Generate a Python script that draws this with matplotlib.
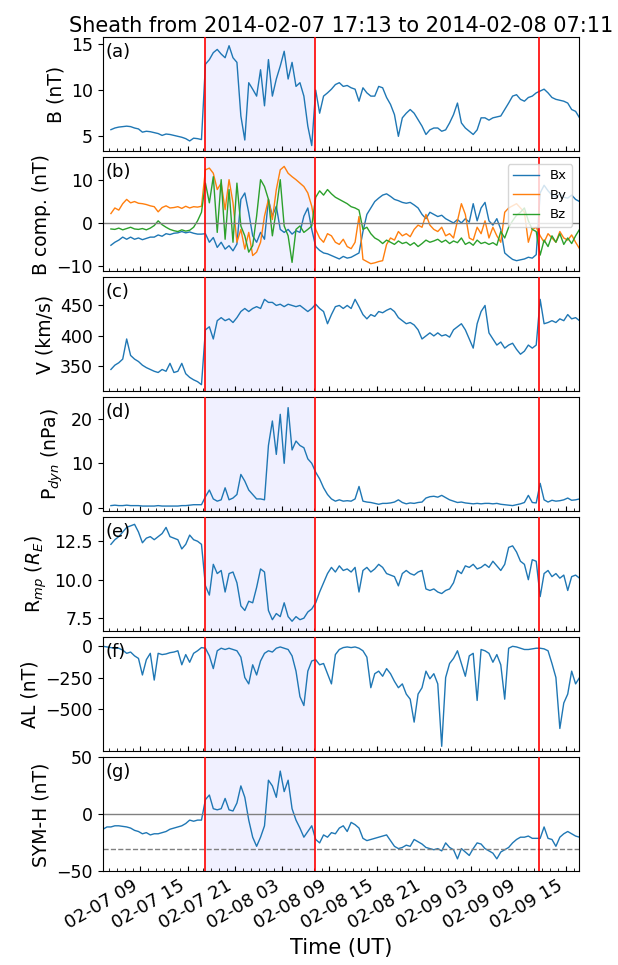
import numpy as np
import pandas as pd
import matplotlib
matplotlib.use('Agg')
import matplotlib.pyplot as plt
import matplotlib.dates as mdates
from matplotlib.ticker import FormatStrFormatter

nan = np.nan

# 30-minute samples, first one at 2014-02-07 04:15 UT (8 samples = 4 hours per row)
time_start = '2014-02-07 04:15'

b_total = [
    nan, nan, 5.72, 5.9, 6.0, 6.05, 6.1, 6.05,
    5.9, 5.8, 5.45, 5.55, 5.5, 5.4, 5.3, 5.1,
    5.25, 5.2, 5.1, 5.0, 4.9, 4.75, 4.5, 4.8,
    4.75, 4.65, 12.8, 13.3, 14.05, 14.4, 13.9, 13.5,
    14.8, 13.5, 13.0, 7.2, 4.6, 10.8, 10.1, 9.35,
    12.2, 8.3, 13.3, 9.35, 11.2, 12.6, 14.2, 11.2,
    13.0, 10.4, 10.8, 9.35, 6.1, 4.0, 10.0, 7.5,
    9.35, 9.7, 10.1, 10.6, 10.8, 10.4, 10.5, 10.25,
    10.1, 8.8, 10.25, 9.7, 9.35, 9.35, 10.4, 10.25,
    9.2, 8.45, 7.35, 5.0, 7.0, 7.5, 7.9, 7.5,
    6.8, 6.1, 5.2, 5.7, 5.9, 5.9, 5.55, 5.7,
    6.45, 7.35, 8.6, 6.45, 5.9, 5.55, 5.2, 5.7,
    7.0, 7.0, 6.75, 7.0, 7.1, 7.2, 7.9, 8.6,
    9.35, 9.5, 9.0, 8.8, 9.2, 9.35, 9.7, 9.9,
    10.1, 9.7, 9.2, 9.0, 8.9, 8.8, 8.6, 7.9,
    7.7, 7.0,
]

bx = [
    nan, nan, -5.2, -4.5, -4.0, -3.3, -3.8, -3.3,
    -3.8, -3.5, -3.9, -3.6, -3.3, -3.3, -2.8, -3.1,
    -2.5, -2.7, -2.4, -2.3, -2.0, -2.3, -2.1, -2.4,
    -2.6, -2.6, -2.5, -4.5, -3.4, -5.7, -4.5, -6.1,
    -5.3, -6.5, -4.9, 5.5, 7.0, 2.4, -3.0, -4.5,
    -2.2, -3.8, 5.5, 1.6, 3.9, -1.5, -2.2, -1.5,
    -2.6, -1.8, -2.2, 1.6, 3.5, -1.5, -5.5, -6.4,
    -7.0, -7.2, -7.6, -8.0, -8.4, -7.8, -8.2, -8.0,
    -7.5, -7.0, -2.0, 2.0, 3.5, 5.0, 5.8, 6.5,
    6.8, 6.2, 5.5, 5.2, 4.8, 4.6, 4.8, 4.2,
    3.5, 2.0, 1.0, 2.5, 2.0, 1.5, 1.8, 1.0,
    0.5, 0.0, 0.8, 0.0, 1.0, 0.2, 4.5, 0.5,
    3.5, 4.8, 0.5, -0.5, 1.0, -1.5, -7.0, -7.8,
    -8.5, -8.8, -8.6, -8.4, -8.0, -8.2, -7.4, 7.0,
    8.8, 7.5, 6.5, 6.0, 6.8, 6.0, 5.8, 6.5,
    5.5, 5.0,
]

by = [
    nan, nan, 2.2, 3.5, 3.0, 4.5, 5.5, 4.7,
    5.0, 4.6, 4.5, 4.3, 4.0, 3.8, 2.6, 3.6,
    4.0, 3.5, 3.6, 3.8, 3.4, 3.9, 3.5, 3.8,
    3.7, 3.9, 12.4, 12.8, 11.6, 7.8, 9.3, 3.1,
    10.1, 4.7, -4.5, -1.5, -6.1, -2.2, -7.6, -6.8,
    -4.5, 1.6, 5.5, 0.8, 7.8, 12.4, 13.2, 11.6,
    10.8, 10.1, 9.3, 8.5, 7.0, 3.9, -1.5, -3.5,
    -4.5, -2.5, -3.0, -4.5, -5.0, -3.8, -5.5, -6.0,
    -4.5, 1.5, -8.5, -9.0, -9.5, -9.3, -9.0, -8.8,
    -5.0, -3.5, -4.0, -2.0, -3.0, -2.5, -3.2, -1.5,
    -0.5, -1.0, 2.0, -0.5, -1.5, -2.0, -1.0, -3.0,
    -2.5, -3.5, 0.5, 4.5, 2.0, -3.5, -4.0, -1.0,
    -2.5, 0.5, -3.5, -1.0, -3.0, -4.5, 2.5, 3.5,
    4.0, 4.5, 3.5, 2.5, -4.5, -1.5, -1.0, -3.0,
    -4.5, -2.5, -3.5, -4.5, -2.0, -3.5, -4.0, -2.8,
    -4.5, -6.0,
]

bz = [
    nan, nan, -1.4, -1.5, -1.2, -1.6, -1.3, -1.0,
    -1.4, -1.5, -1.3, -1.6, -1.2, -0.6, 0.5, -0.4,
    -1.0, -1.5, -1.8, -2.0, -1.6, -1.9, -1.7, -1.0,
    0.5, 2.5, 9.3, 4.7, 10.8, -2.2, 10.1, -3.8,
    7.8, -4.5, 9.3, -0.7, -3.0, -6.8, -5.3, 1.6,
    10.1, 8.5, 5.5, -3.0, 3.1, 10.1, -0.7, -3.0,
    -9.2, -1.5, -0.7, -2.2, -1.5, -0.7, 6.0, 7.5,
    6.5, 7.8, 6.8, 6.0, 5.5, 5.0, 4.5, 3.8,
    3.5, 3.0, -1.5, -1.0, -2.5, -3.5, -4.0, -4.8,
    -4.0, -4.5, -5.0, -4.2, -4.8, -4.5, -5.2, -4.6,
    -5.5, -4.8, -4.0, -4.5, -4.2, -3.8, -4.5, -4.0,
    -4.8, -4.2, -4.6, -3.5, -5.0, -4.5, -5.2, -4.0,
    -4.8, -4.5, -5.0, -4.6, -5.2, -2.0, -3.5, -1.0,
    0.5, 1.8, 2.5, 3.5, 0.5, -1.5, -2.0, -7.5,
    -4.0, -5.5, -3.0, -4.5, -2.5, -5.0, -3.5, -4.8,
    -3.0, -1.5,
]

speed = [
    nan, nan, 345, 352, 356, 362, 395, 368,
    362, 358, 352, 348, 345, 342, 340, 345,
    342, 355, 340, 342, 355, 338, 332, 328,
    325, 320, 410, 415, 395, 425, 430, 425,
    428, 422, 430, 440, 445, 440, 445, 448,
    445, 460, 455, 455, 450, 452, 448, 452,
    450, 448, 450, 445, 440, 445, 452, 445,
    440, 420, 435, 448, 450, 445, 450, 445,
    460, 448, 435, 428, 435, 432, 440, 438,
    442, 445, 440, 430, 425, 420, 422, 418,
    410, 395, 400, 405, 400, 405, 400, 402,
    398, 410, 415, 420, 410, 395, 380, 420,
    440, 450, 405, 395, 385, 390, 380, 385,
    388, 378, 370, 375, 385, 380, 385, 460,
    420, 422, 425, 422, 428, 425, 435, 428,
    430, 425,
]

p_dyn = [
    nan, nan, 0.5, 0.6, 0.5, 0.5, 0.6, 0.5,
    0.5, 0.5, 0.4, 0.4, 0.4, 0.4, 0.5, 0.4,
    0.4, 0.4, 0.4, 0.4, 0.5, 0.5, 0.6, 0.7,
    0.7, 0.7, 2.5, 4.0, 2.0, 1.5, 1.8, 4.5,
    1.8, 2.2, 3.0, 7.5, 6.0, 4.0, 3.0, 2.0,
    2.0, 1.8, 14.0, 19.5, 12.0, 21.0, 10.0, 22.5,
    13.0, 15.0, 14.0, 13.5, 11.0, 10.0, 8.0, 6.5,
    4.5, 3.0, 2.0, 1.5, 1.8, 1.5, 1.6, 1.5,
    2.0, 4.8, 1.5, 1.3, 1.2, 1.0, 0.8, 1.0,
    1.0, 1.1, 1.3, 1.8, 1.2, 0.9, 1.1, 1.0,
    1.2, 1.3, 2.2, 2.5, 2.6, 2.4, 2.8, 2.3,
    1.8, 1.5, 1.2, 1.3, 1.1, 1.0, 0.9, 1.0,
    0.9, 1.0, 1.0, 0.9, 1.0, 0.8, 0.7, 0.6,
    0.5, 0.7, 0.9, 1.2, 2.8, 1.2, 1.1, 5.5,
    1.8, 1.3, 1.7, 1.5, 1.6, 1.8, 2.2, 1.7,
    1.8, 2.0,
]

r_mp = [
    nan, nan, 12.3, 12.6, 12.8, 13.1, 13.4, 13.5,
    13.6, 13.1, 12.4, 12.7, 12.8, 12.6, 12.8, 13.0,
    13.4, 12.8, 12.7, 12.6, 12.0, 12.3, 12.9, 12.6,
    12.5, 12.3, 9.6, 9.0, 11.0, 10.4, 10.6, 9.2,
    10.4, 10.5, 9.8, 8.3, 8.0, 8.6, 8.5, 9.5,
    10.7, 10.5, 8.0, 7.4, 7.8, 7.6, 8.5, 7.6,
    7.3, 7.6, 7.4, 7.5, 7.9, 8.1, 8.5, 9.2,
    9.8, 10.4, 10.8, 10.5, 10.9, 10.6, 10.7, 10.5,
    10.8, 9.2, 10.6, 10.8, 10.5, 10.7, 11.0, 10.8,
    10.4, 10.3, 10.2, 9.6, 10.4, 10.6, 10.4, 10.3,
    10.5, 10.6, 9.4, 9.3, 9.4, 9.2, 9.1, 9.3,
    9.4, 9.8, 10.6, 10.4, 10.9, 10.8, 11.0, 10.7,
    10.8, 11.0, 10.8, 11.2, 10.9, 10.6, 11.0, 12.1,
    12.2, 11.8, 11.2, 11.0, 10.0, 11.3, 11.2, 8.9,
    10.4, 10.6, 10.2, 10.4, 10.1, 10.3, 9.3, 10.2,
    10.3, 10.1,
]

al_index = [
    -5, -10, -15, -20, -20, -35, -60, -50,
    -80, -100, -230, -110, -60, -270, -60, -70,
    -65, -55, -50, -40, -150, -70, -130, -60,
    -40, -15, -20, -80, -180, -40, -20, -30,
    -20, -30, -40, -90, -250, -300, -150, -230,
    -120, -60, -40, -50, -20, -10, -20, -30,
    -80, -200, -400, -470, -200, -120, -110, -150,
    -140, -220, -300, -70, -30, -15, -10, -15,
    -10, -20, -40, -90, -330, -220, -200, -240,
    -180, -220, -280, -330, -300, -380, -420, -600,
    -380, -330, -200, -260, -220, -300, -790, -250,
    -140, -100, -40, -140, -240, -80, -60, -430,
    -30, -40, -60, -130, -70, -150, -420, -20,
    -5, -10, -20, -30, -30, -25, -20, -20,
    -25, -40, -140, -250, -650, -450, -380, -200,
    -300, -250,
]

sym_h = [
    -13, -11, -11, -10, -10, -10.5, -11, -12,
    -14, -15, -17, -16, -18, -17, -17, -16,
    -15, -13, -12, -11, -10, -8, -5, -6,
    -5, -5, 13, 17, 5, 4, 5, 14,
    4, 3, 10, 25, 15, -5, -20, -28,
    -20, -10, 30, 25, 15, 38, 20, 30,
    5, -5, -12, -20, -15, -10, -22, -25,
    -18, -20, -16, -17, -12, -10, -15, -7,
    -9, -12, -21, -23, -22, -21, -20, -19,
    -18, -23, -28, -30, -29, -27, -28, -22,
    -24, -26, -29, -30, -31, -30, -32, -25,
    -29, -31, -39, -30, -33, -36, -30, -25,
    -26, -30, -32, -34, -39, -33, -31, -29,
    -25, -22, -20, -20, -19, -21, -21, -21,
    -11, -21, -22, -28, -20, -17, -15, -17,
    -19, -20,
]

sheath_start = '2014-02-07 17:13'
sheath_end = '2014-02-08 07:11'
ejecta_end = '2014-02-09 11:38'
plot_start = '2014-02-07 04:13'
plot_end = '2014-02-09 16:40'


def make_axes(fig, n):
    # stacked panels sharing the time axis
    left, width = 0.1663, 0.7704
    height = 114 / 965
    axes = []
    for i in range(n):
        top = (37.4 + 120 * i) / 965
        share = axes[0] if axes else None
        axes.append(fig.add_axes([left, 1 - top - height, width, height], sharex=share))
    return axes


def main():
    times = pd.date_range(time_start, periods=len(b_total), freq='30min')
    blue, orange, green = '#1f77b4', '#ff7f0e', '#2ca02c'

    fig = plt.figure(figsize=(6.18, 9.65), dpi=100)
    axes = make_axes(fig, 7)

    panels = [
        ('(a)', 'B (nT)', (3.37, 15.7), [5, 10, 15]),
        ('(b)', 'B comp. (nT)', (-11.3, 15.3), [-10, 0, 10]),
        ('(c)', 'V (km/s)', (309, 496), [350, 400, 450]),
        ('(d)', 'P$_{dyn}$ (nPa)', (-0.8, 24.8), [0, 10, 20]),
        ('(e)', 'R$_{mp}$ ($R_E$)', (6.64, 14.05), [7.5, 10.0, 12.5]),
        ('(f)', 'AL (nT)', (-830, 65), [-500, -250, 0]),
        ('(g)', 'SYM-H (nT)', (-50, 50), [-50, 0, 50]),
    ]

    axes[0].plot(times, b_total, color=blue, lw=1.0)
    axes[1].plot(times, bx, color=blue, lw=1.0, label='Bx')
    axes[1].plot(times, by, color=orange, lw=1.0, label='By')
    axes[1].plot(times, bz, color=green, lw=1.0, label='Bz')
    axes[1].axhline(0, color='gray', lw=1.0)
    axes[2].plot(times, speed, color=blue, lw=1.0)
    axes[3].plot(times, p_dyn, color=blue, lw=1.0)
    axes[4].plot(times, r_mp, color=blue, lw=1.0)
    axes[5].plot(times, al_index, color=blue, lw=1.0)
    axes[6].plot(times, sym_h, color=blue, lw=1.0)
    axes[6].axhline(0, color='gray', lw=1.0)
    axes[6].axhline(-30, color='gray', lw=1.0, ls='--')

    t0, t1, t2 = pd.Timestamp(sheath_start), pd.Timestamp(sheath_end), pd.Timestamp(ejecta_end)
    for ax, (letter, ylabel, ylim, yticks) in zip(axes, panels):
        ax.axvspan(t0, t1, color='blue', alpha=0.06, lw=0)
        for t in (t0, t1, t2):
            ax.axvline(t, color='red', lw=1.2, zorder=3)
        ax.set_ylim(*ylim)
        ax.set_yticks(yticks)
        ax.set_ylabel(ylabel, fontsize=13.5)
        ax.text(0.006, 0.955, letter, transform=ax.transAxes, fontsize=13, va='top', ha='left')
        ax.tick_params(axis='y', labelsize=12.5)
        ax.tick_params(axis='x', which='both', direction='in', labelbottom=False)

    axes[4].yaxis.set_major_formatter(FormatStrFormatter('%.1f'))
    axes[1].legend(loc='upper right', fontsize=9.5)

    bottom = axes[-1]
    bottom.set_xlim(pd.Timestamp(plot_start), pd.Timestamp(plot_end))
    bottom.xaxis.set_major_locator(mdates.HourLocator(byhour=[3, 9, 15, 21]))
    bottom.xaxis.set_minor_locator(mdates.HourLocator())
    bottom.xaxis.set_major_formatter(mdates.DateFormatter('%m-%d %H'))
    bottom.tick_params(axis='x', labelbottom=True, labelsize=13)
    plt.setp(bottom.get_xticklabels(), rotation=30, ha='right')
    bottom.set_xlabel('Time (UT)', fontsize=15)

    axes[0].set_title(f'Sheath from {sheath_start} to {sheath_end}', fontsize=15, pad=4)
    fig.align_ylabels(axes)

    fig.savefig('out.png', dpi=100)


if __name__ == "__main__":
    main()
